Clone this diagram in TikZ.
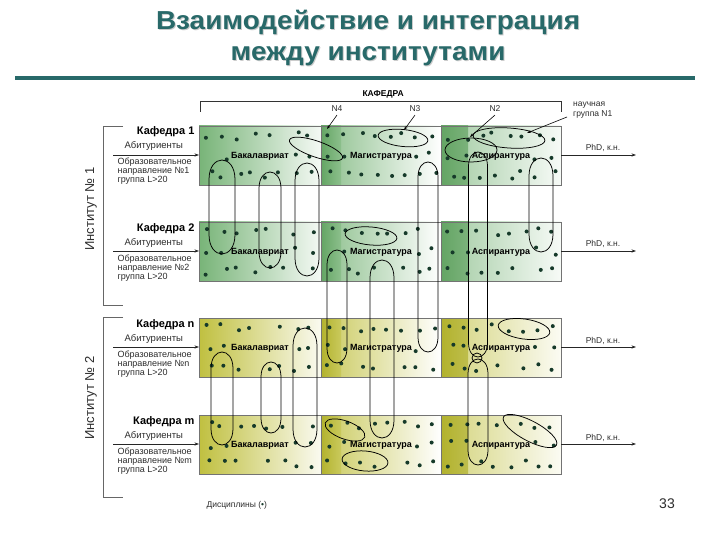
\documentclass[tikz,border=0pt]{standalone}
\usepackage{fontspec}
\usepackage{graphicx}
\setmainfont{Liberation Sans}
\usetikzlibrary{arrows.meta}
\definecolor{titlec}{RGB}{40,105,105}
\definecolor{cg}{RGB}{120,180,120}
\definecolor{cgd}{RGB}{100,165,100}
\definecolor{co}{RGB}{192,192,64}
\definecolor{cod}{RGB}{178,178,45}
\definecolor{dotc}{RGB}{22,58,42}
\definecolor{txt}{RGB}{45,45,45}
\newcommand\vloop[4]{% cx, top, bottom, half width
  \draw[lp] ({#1-#4},{#2+1.5*#4}) .. controls ({#1-#4},{#2-0.5*#4}) and ({#1+#4},{#2-0.5*#4}) .. ({#1+#4},{#2+1.5*#4})
    -- ({#1+#4},{#3-1.5*#4}) .. controls ({#1+#4},{#3+0.5*#4}) and ({#1-#4},{#3+0.5*#4}) .. ({#1-#4},{#3-1.5*#4}) -- cycle;}
\newcommand\wide[1]{\scalebox{1.075}[1]{#1}}
\begin{document}
\begin{tikzpicture}[x=1pt,y=-1pt,
  lp/.style={draw=black, line width=0.75pt},
  cellbox/.style={draw=black!55, line width=0.9pt},
  ptr/.style={-{Stealth[length=4pt,width=2.8pt]}, line width=0.6pt},
  flow/.style={-{Stealth[length=4.5pt,width=3.2pt]}, line width=0.7pt},
  lbl/.style={font=\bfseries\fontsize{9}{10}\selectfont, text=black, anchor=base},
  smalltext/.style={font=\fontsize{9}{10}\selectfont, text=txt},
  kaf/.style={font=\bfseries\fontsize{11}{13}\selectfont, text=black, anchor=base east},
  bracket/.style={draw=black!60, line width=0.8pt},
  titlefont/.style={font=\bfseries\fontsize{26}{28}\selectfont, anchor=base, inner sep=0pt}
]
\useasboundingbox (0,0) rectangle (720,540);
\fill[white] (0,0) rectangle (720,540);

% title (shadow + text)
\node[titlefont, text=black!20] (t1s) at (369,30.5) {\wide{Взаимодействие и интеграция}};
\node[titlefont, text=black!20] (t2s) at (369,61.5) {\wide{между институтами}};
\node[titlefont, text=titlec] (title1) at (368,29.5) {\wide{Взаимодействие и интеграция}};
\node[titlefont, text=titlec] (title2) at (368,60.5) {\wide{между институтами}};
\draw[titlec, line width=4pt] (15,78) -- (695,78);

% header
\draw[bracket, line width=1pt, draw=black!80] (200,112) -- (200,102) -- (561,102) -- (561,112);
\node[font=\bfseries\fontsize{8.5}{10}\selectfont, anchor=base west] (kafhead) at (359,97) {КАФЕДРА};

% rows
\pgfmathsetseed{12}
\foreach \rr/\ty/\kn/\cA/\cB in {1/126/1/cg/cgd, 2/222/2/cg/cgd, 3/318/n/co/cod, 4/415/m/co/cod}{
  \shade[left color=\cA, right color=\cA!8!white] (199,\ty) rectangle (321,\ty+59);
  \shade[left color=\cA!85!white, right color=white] (321,\ty) rectangle (441,\ty+59);
  \shade[left color=\cB, right color=\cA!85!white] (321,\ty) rectangle (341,\ty+59);
  \shade[left color=\cA!70!white, right color=\cA!6!white] (441,\ty) rectangle (561,\ty+59);
  \shade[left color=\cB, right color=\cB!85!white] (441,\ty) rectangle (468,\ty+59);
  \draw[cellbox] (199,\ty) rectangle (561,\ty+59);
  \draw[cellbox] (321,\ty) -- (321,\ty+59) (441,\ty) -- (441,\ty+59);
  % dots
  \foreach \xo in {199,321,441}{
    \foreach \i in {0,...,7}{
      \foreach \j in {0,1,2}{
        \pgfmathsetmacro\px{\xo+9.5+\i*14.6+4*rand}
        \pgfmathsetmacro\py{\ty+10+\j*19.5+4*rand}
        \pgfmathtruncatemacro\dskip{((\j==1)&&(\i>1)&&(\i<6)) || (rnd>0.94)}
        \ifnum\dskip=0 \fill[dotc] (\px,\py) circle[radius=2pt];\fi
      }
    }
  }
  \node[lbl] (bak\rr) at (260,\ty+32.5) {Бакалавриат};
  \node[lbl] (mag\rr) at (381,\ty+32.5) {Магистратура};
  \node[lbl] (asp\rr) at (501,\ty+32.5) {Аспирантура};
  % left side
  \node[kaf] (kaf\rr) at (198,\ty+9) {Кафедра \kn};
  \node[smalltext, font=\fontsize{9.5}{11}\selectfont, anchor=base west] (abit\rr) at (121,\ty+23) {Абитуриенты};
  \coordinate (in\rr) at (113,\ty+29);
  \coordinate (cellw\rr) at (199,\ty+29);
  \draw[flow, draw=black!85] (in\rr) -- (cellw\rr);
  \node[smalltext, anchor=base west] (obr\rr) at (114,\ty+39) {Образовательное};
  \node[smalltext, anchor=base west] (napr\rr) at (114,\ty+48) {направление №\kn};
  \node[smalltext, anchor=base west] (grp\rr) at (114,\ty+57) {группа L>20};
  % right side
  \coordinate (celle\rr) at (561,\ty+29);
  \coordinate (out\rr) at (636,\ty+29);
  \draw[flow, draw=black!85] (celle\rr) -- (out\rr);
  \node[smalltext, font=\fontsize{8.5}{10}\selectfont, anchor=base] (phd\rr) at (603,\ty+25) {PhD, к.н.};
}

% institute brackets
\draw[bracket] (123,126) -- (103,126) -- (103,305) -- (123,305);
\draw[bracket] (123,317) -- (103,317) -- (103,497) -- (123,497);
\node[rotate=90, font=\fontsize{13}{15}\selectfont, text=txt] (inst1) at (91,209) {Институт № 1};
\node[rotate=90, font=\fontsize{13}{15}\selectfont, text=txt] (inst2) at (91,398) {Институт № 2};

% vertical loops
\vloop{222}{160}{254}{13}
\vloop{270}{172}{268}{11}
\vloop{307}{163}{276}{12}
\vloop{428}{162}{352}{10}
\vloop{478}{152}{357}{9.5}
\vloop{478}{359}{465}{10}
\draw[lp] (477,358) circle[radius=5pt];
\vloop{541}{158}{252}{12}
\vloop{337}{250}{363}{10}
\vloop{382}{260}{438}{12}
\vloop{222}{352}{445}{11}
\vloop{271}{362}{433}{10}
\vloop{305}{328}{447}{12}

% horizontal groups
\draw[lp, rotate around={-19:(316,149)}] (316,149) ellipse[x radius=28pt, y radius=8pt];
\draw[lp, rotate around={-6:(403,138)}] (403,138) ellipse[x radius=25pt, y radius=8.5pt];
\draw[lp] (471,150) ellipse[x radius=26pt, y radius=12pt];
\draw[lp, rotate around={-4:(509,138)}] (509,138) ellipse[x radius=36pt, y radius=10pt];
\draw[lp, rotate around={-5:(371,236)}] (371,236) ellipse[x radius=26pt, y radius=9pt];
\draw[lp, rotate around={-8:(524,329)}] (524,329) ellipse[x radius=26pt, y radius=10pt];
\draw[lp, rotate around={-20:(345,430)}] (345,430) ellipse[x radius=21pt, y radius=9pt];
\draw[lp, rotate around={-5:(365,461)}] (365,461) ellipse[x radius=23pt, y radius=10pt];
\draw[lp, rotate around={-28:(530,431)}] (530,431) ellipse[x radius=30pt, y radius=10pt];

% group labels and pointers
\node[smalltext, font=\fontsize{8.5}{10}\selectfont, anchor=base] (n4) at (337,111.5) {N4};
\node[smalltext, font=\fontsize{8.5}{10}\selectfont, anchor=base] (n3) at (415,111.5) {N3};
\node[smalltext, font=\fontsize{8.5}{10}\selectfont, anchor=base] (n2) at (495,111.5) {N2};
\node[smalltext, font=\fontsize{8.5}{10}\selectfont, anchor=north west, align=left, inner sep=0pt] (n1) at (573,102) {научная\\группа N1};
\coordinate (e4) at (327,129);
\coordinate (e3) at (404,130);
\coordinate (e2) at (470,137);
\coordinate (e1) at (527,133);
\draw[ptr] (n4.south) -- (e4);
\draw[ptr] (n3.south) -- (e3);
\draw[ptr] (n2.south) -- (e2);
\draw[ptr] (567,117) -- (e1);

% footer
\node[smalltext, font=\fontsize{8.5}{10}\selectfont, anchor=base west] (disc) at (203,507) {Дисциплины (\textcolor{dotc}{•})};
\node[font=\fontsize{14}{16}\selectfont, anchor=base, text=txt] (page) at (667,508) {33};
\end{tikzpicture}
\end{document}
